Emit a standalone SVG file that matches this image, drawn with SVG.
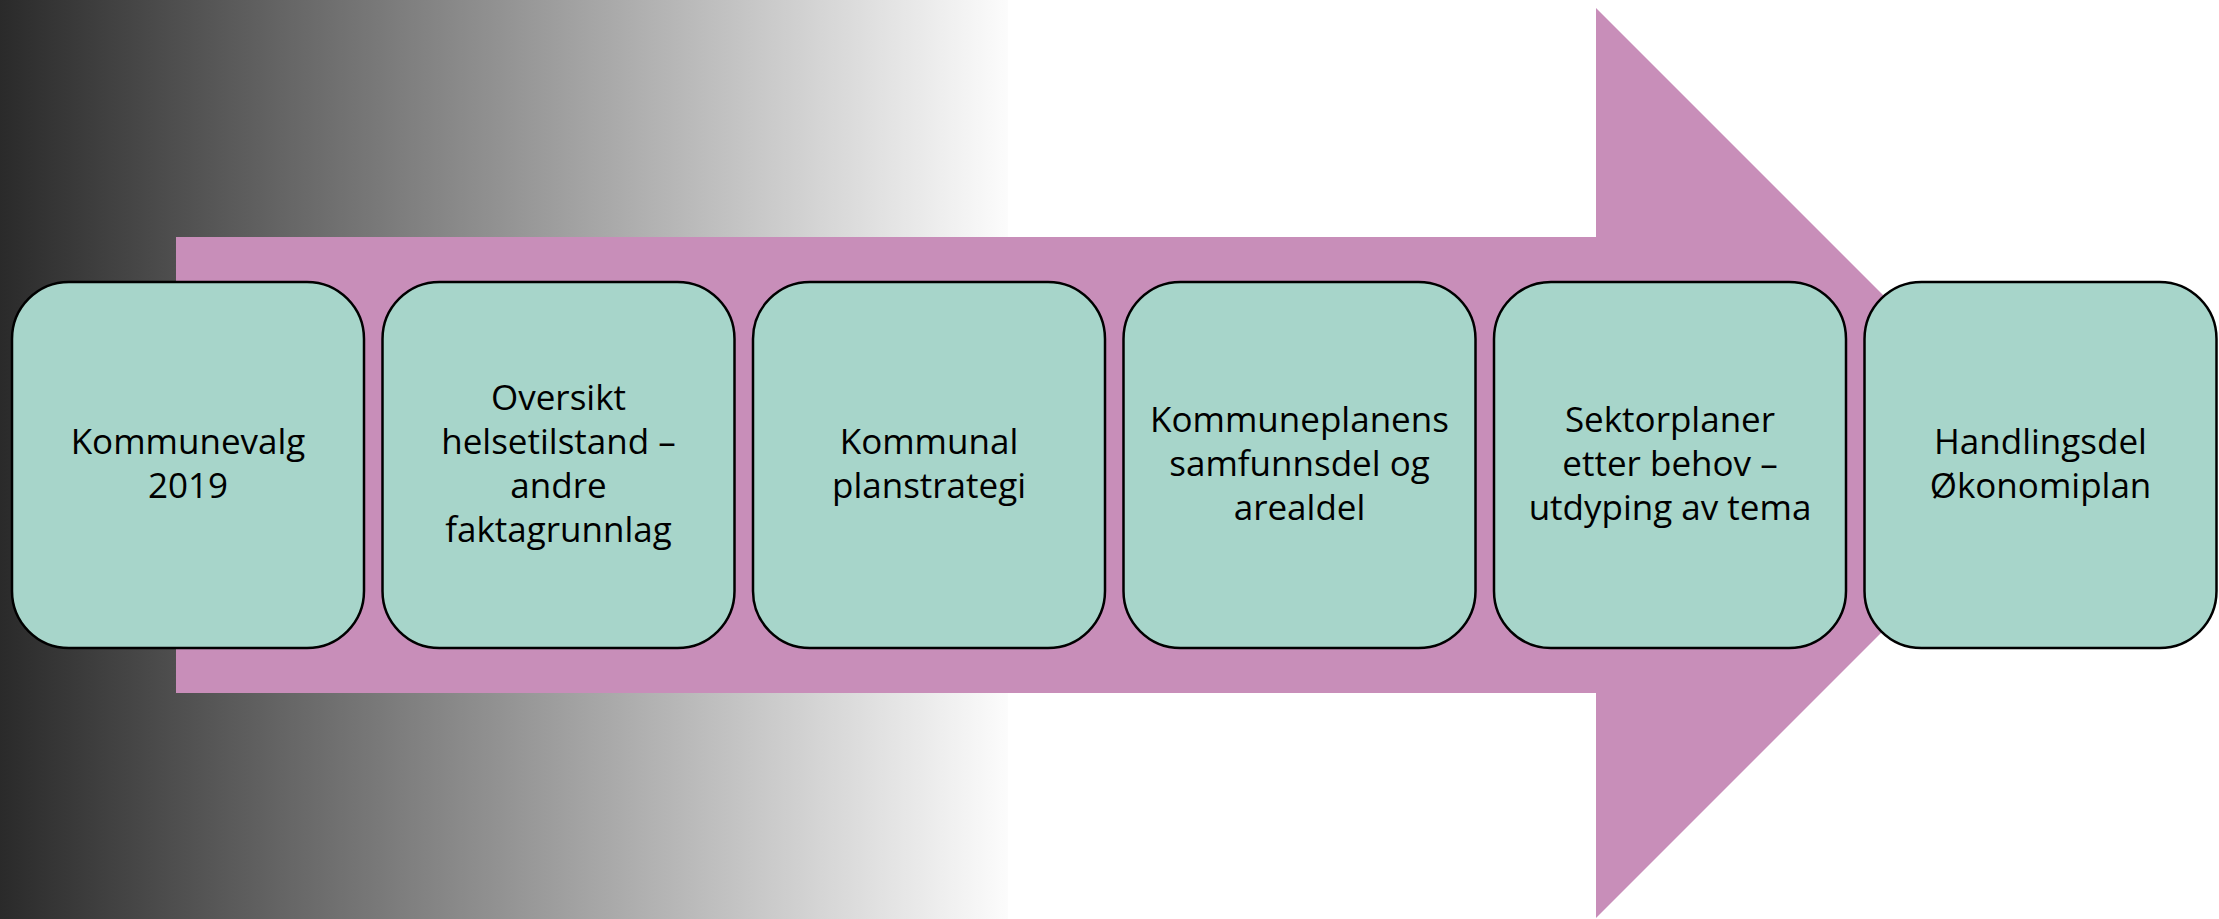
<svg xmlns="http://www.w3.org/2000/svg" width="2219" height="919" viewBox="0 0 2219 919">
<defs>
<linearGradient id="bg" x1="0" y1="0" x2="1008" y2="0" gradientUnits="userSpaceOnUse">
<stop offset="0" stop-color="#2a2a2a"/>
<stop offset="1" stop-color="#fcfcfc"/>
</linearGradient>
<style>
.box{fill:#a7d5ca;stroke:#000;stroke-width:2.5}
.t{font-family:"Open Sans","Liberation Sans",sans-serif;font-size:35px;fill:#000;text-anchor:middle}
</style>
</defs>
<rect width="2219" height="919" fill="#fff"/>
<rect x="0" y="0" width="1008" height="919" fill="url(#bg)"/>
<g id="arrow">
<polygon points="176,237 1596,237 1596,8 2051,463 1596,918 1596,693 176,693" fill="#c88eb9"/>
</g>
<g id="connectors"></g>
<g id="n1">
<rect class="box" x="12" y="282" width="352" height="366" rx="57"/>
<text class="t" x="188" y="454">Kommunevalg</text>
<text class="t" x="188" y="498">2019</text>
</g>
<g id="n2">
<rect class="box" x="382.5" y="282" width="352" height="366" rx="57"/>
<text class="t" x="558.5" y="410">Oversikt</text>
<text class="t" x="558.5" y="454">helsetilstand –</text>
<text class="t" x="558.5" y="498">andre</text>
<text class="t" x="558.5" y="542">faktagrunnlag</text>
</g>
<g id="n3">
<rect class="box" x="753" y="282" width="352" height="366" rx="57"/>
<text class="t" x="929" y="454">Kommunal</text>
<text class="t" x="929" y="498">planstrategi</text>
</g>
<g id="n4">
<rect class="box" x="1123.5" y="282" width="352" height="366" rx="57"/>
<text class="t" x="1299.5" y="432">Kommuneplanens</text>
<text class="t" x="1299.5" y="476">samfunnsdel og</text>
<text class="t" x="1299.5" y="520">arealdel</text>
</g>
<g id="n5">
<rect class="box" x="1494" y="282" width="352" height="366" rx="57"/>
<text class="t" x="1670" y="432">Sektorplaner</text>
<text class="t" x="1670" y="476">etter behov –</text>
<text class="t" x="1670" y="520">utdyping av tema</text>
</g>
<g id="n6">
<rect class="box" x="1864.5" y="282" width="352" height="366" rx="57"/>
<text class="t" x="2040.5" y="454">Handlingsdel</text>
<text class="t" x="2040.5" y="498">Økonomiplan</text>
</g>
</svg>
